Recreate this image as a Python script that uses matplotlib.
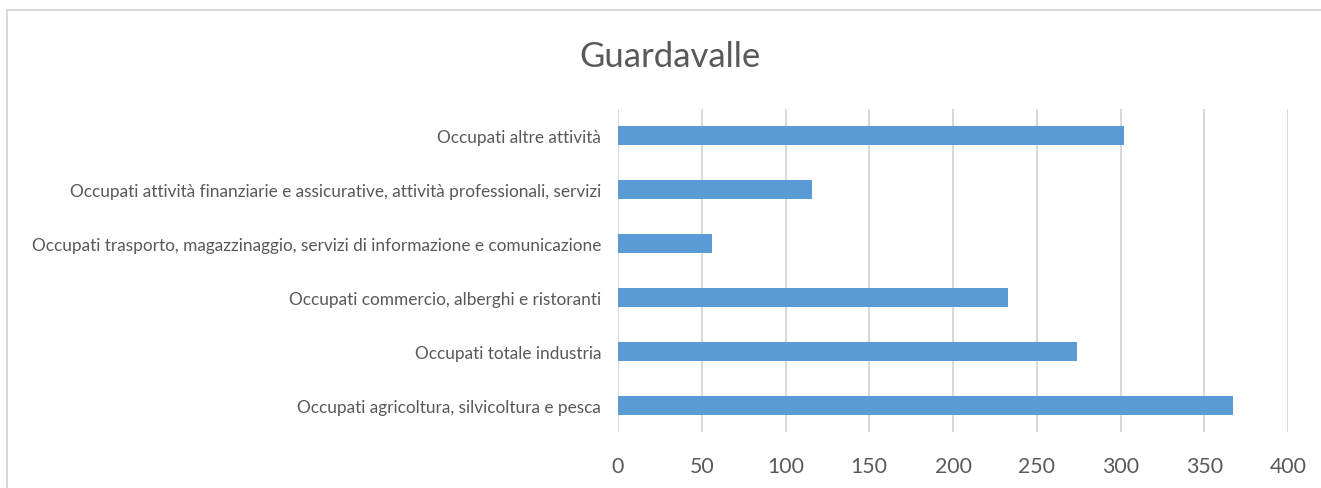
import matplotlib
matplotlib.use("Agg")
import matplotlib.pyplot as plt
from matplotlib.patches import Rectangle

title = "Guardavalle"
categories = [
    "Occupati agricoltura, silvicoltura e pesca",
    "Occupati totale industria",
    "Occupati commercio, alberghi e ristoranti",
    "Occupati trasporto, magazzinaggio, servizi di informazione e comunicazione",
    "Occupati attività finanziarie e assicurative, attività professionali, servizi",
    "Occupati altre attività",
]
values = [367, 274, 233, 56, 116, 302]
xticks = [0, 50, 100, 150, 200, 250, 300, 350, 400]

BAR = "#5B9BD5"
GRID = "#D9D9D9"
TXT = "#595959"
FONT = "Lato"

W, H = 1321, 489
fig = plt.figure(figsize=(W / 100, H / 100), dpi=100)
fig.patch.set_facecolor("white")

# chart frame (left and top borders visible)
fig.add_artist(Rectangle((7 / W, -0.1), 1.2, (H - 11) / H + 0.1,
                         transform=fig.transFigure, fill=False,
                         edgecolor=GRID, linewidth=1.5))

ax = fig.add_axes([618 / W, 1 - 433 / H, (1288 - 618) / W, (433 - 110) / H])
ypos = list(range(len(categories)))
ax.barh(ypos, values, height=0.35, color=BAR, zorder=3)
ax.set_xlim(0, 400)
ax.set_ylim(-0.5, len(categories) - 0.5)
ax.set_xticks(xticks)
ax.set_xticklabels([str(t) for t in xticks], fontsize=15.3, color=TXT, family=FONT)
ax.set_yticks(ypos)
ax.set_yticklabels(categories, fontsize=12.4, color=TXT, family=FONT)
ax.tick_params(axis="x", length=0, pad=17)
ax.tick_params(axis="y", length=0, pad=12)
for s in ax.spines.values():
    s.set_visible(False)
ax.xaxis.grid(True, color=GRID, linewidth=1.5, zorder=0)
ax.set_axisbelow(True)

fig.text(670 / W, 1 - 67 / H, title, ha="center", va="baseline",
         fontsize=25, color=TXT, family=FONT)

fig.savefig("out.png", dpi=100)
